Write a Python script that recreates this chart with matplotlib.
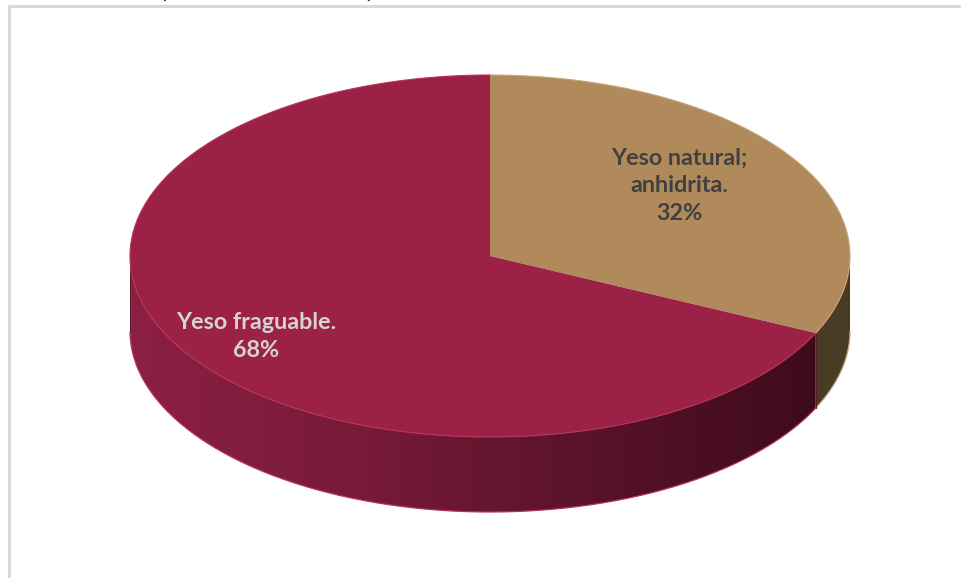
import numpy as np
import matplotlib
matplotlib.use("Agg")
import matplotlib.pyplot as plt
from matplotlib.patches import Polygon
from matplotlib.colors import LinearSegmentedColormap

# Data
categories = ["Yeso natural;\nanhidrita.", "Yeso fraguable."]
values = [32, 68]

# Styling
top_colors = ["#B08A5B", "#9B2246"]
side_colors = ["#4A3B25", None]          # None -> gradient side
edge_colors = ["#C9A57A", "#B8335D"]
label_colors = ["#404040", "#D4D4D4"]
label_pos = [(679, 186), (256, 336.5)]

W, H = 961, 578
fig = plt.figure(figsize=(W / 100, H / 100), dpi=100)
ax = fig.add_axes([0, 0, 1, 1])
ax.set_xlim(0, W)
ax.set_ylim(H, 0)
ax.axis("off")

# chart frame
ax.plot([8.5, 8.5, W], [H, 5.5, 5.5], color="#D9D9D9", lw=2.2,
        solid_capstyle="butt", zorder=1)

# title (mostly above the visible area)
for xp, ch in [(163, "("), (369, ")")]:
    ax.text(xp, -2.5, ch, ha="center", va="baseline", fontsize=15,
            fontweight="bold", color="#1A1A1A", family="Lato", zorder=2)

cx, cy, a, b, depth = 490.0, 256.0, 360.0, 181.0, 75.0


def pt(t, dy=0.0):
    r = np.radians(t)
    return cx + a * np.cos(r), cy - b * np.sin(r) + dy


total = float(sum(values))
angles = []
start = 90.0
for v in values:
    sweep = 360.0 * v / total
    angles.append((start - sweep, start))
    start -= sweep

grad_cmap = LinearSegmentedColormap.from_list(
    "side", ["#8C2042", "#761A37", "#561228", "#3A0A18"])

# outer sides (front half only)
for i, (t0, t1) in enumerate(angles):
    ts = np.linspace(t0, t1, 600)
    vis = ts[np.sin(np.radians(ts)) <= 1e-9]
    if len(vis) < 2:
        continue
    xs, ys = pt(vis)
    poly = np.column_stack([np.concatenate([xs, xs[::-1]]),
                            np.concatenate([ys, (ys + depth)[::-1]])])
    if side_colors[i] is None:
        patch = Polygon(poly, closed=True, facecolor="none", edgecolor="none")
        ax.add_patch(patch)
        grad = np.linspace(0, 1, 400).reshape(1, -1)
        im = ax.imshow(grad, cmap=grad_cmap, aspect="auto",
                       extent=[cx - a, cx + a, cy + b + depth + 5, cy - b],
                       zorder=3, interpolation="bilinear")
        im.set_clip_path(patch)
    else:
        ax.add_patch(Polygon(poly, closed=True, facecolor=side_colors[i],
                             edgecolor="none", zorder=3))
    ax.plot(xs, ys + depth, color=edge_colors[i], lw=0.9, zorder=4)
    # vertical edge at the visible ends
    for k in (0, -1):
        if abs(np.sin(np.radians(vis[k]))) > 1e-3:
            ax.plot([xs[k], xs[k]], [ys[k], ys[k] + depth],
                    color="#5A1A2A", lw=0.6, zorder=4)

# top faces
for i, (t0, t1) in enumerate(angles):
    ts = np.linspace(t0, t1, 600)
    xs, ys = pt(ts)
    poly = np.column_stack([np.concatenate([[cx], xs]),
                            np.concatenate([[cy], ys])])
    ax.add_patch(Polygon(poly, closed=True, facecolor=top_colors[i],
                         edgecolor="none", zorder=5))
    ax.plot(xs, ys, color=edge_colors[i], lw=0.8, zorder=6)

# labels
for i, (cat, v) in enumerate(zip(categories, values)):
    pct = round(100 * v / total)
    ax.text(label_pos[i][0], label_pos[i][1], f"{cat}\n{pct}%",
            ha="center", va="center", fontsize=16.8, fontweight="bold",
            color=label_colors[i], family="Lato", linespacing=1.4,
            zorder=7)

fig.savefig("out.png", dpi=100)
